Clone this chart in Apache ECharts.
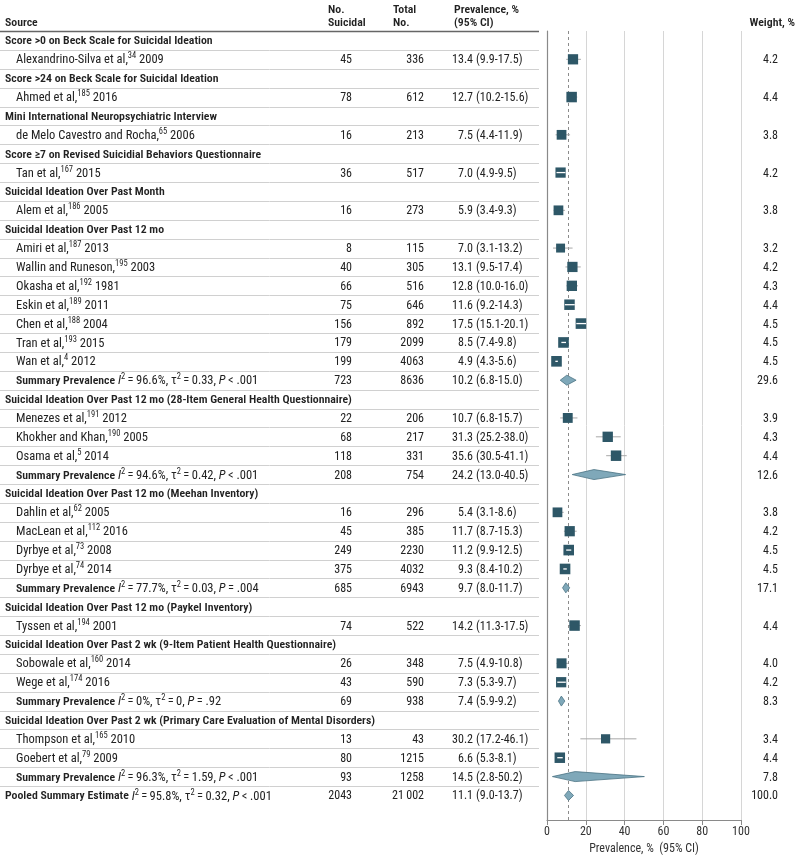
<!DOCTYPE html>
<html><head><meta charset="utf-8">
<script src="https://cdn.jsdelivr.net/npm/echarts@6/dist/echarts.min.js"></script>
<style>html,body{margin:0;padding:0;background:#fff}#c{width:800px;height:858px}</style>
</head><body><div id="c"></div>
<script>
// ---------------- DATA ----------------
const rowKinds = ['g','s','g','s','g','s','g','s','g','s','g','s','s','s','s','s','s','s','m','g','s','s','s','m','g','s','s','s','s','m','g','s','g','s','s','m','g','s','s','m','p'];
const rowLabels = [
 'Score >0 on Beck Scale for Suicidal Ideation',
 'Alexandrino-Silva et al,',
 'Score >24 on Beck Scale for Suicidal Ideation',
 'Ahmed et al,',
 'Mini International Neuropsychiatric Interview',
 'de Melo Cavestro and Rocha,',
 'Score \u22657 on Revised Suicidial Behaviors Questionnaire',
 'Tan et al,',
 'Suicidal Ideation Over Past Month',
 'Alem et al,',
 'Suicidal Ideation Over Past 12 mo',
 'Amiri et al,',
 'Wallin and Runeson,',
 'Okasha et al,',
 'Eskin et al,',
 'Chen et al,',
 'Tran et al,',
 'Wan et al,',
 'Summary Prevalence',
 'Suicidal Ideation Over Past 12 mo (28-Item General Health Questionnaire)',
 'Menezes et al,',
 'Khokher and Khan,',
 'Osama et al,',
 'Summary Prevalence',
 'Suicidal Ideation Over Past 12 mo (Meehan Inventory)',
 'Dahlin et al,',
 'MacLean et al,',
 'Dyrbye et al,',
 'Dyrbye et al,',
 'Summary Prevalence',
 'Suicidal Ideation Over Past 12 mo (Paykel Inventory)',
 'Tyssen et al,',
 'Suicidal Ideation Over Past 2 wk (9-Item Patient Health Questionnaire)',
 'Sobowale et al,',
 'Wege et al,',
 'Summary Prevalence',
 'Suicidal Ideation Over Past 2 wk (Primary Care Evaluation of Mental Disorders)',
 'Thompson et al,',
 'Goebert et al,',
 'Summary Prevalence',
 'Pooled Summary Estimate'
];
const refNumbers = [null,'34',null,'185',null,'65',null,'167',null,'186',null,'187','195','192','189','188','193','4',null,null,'191','190','5',null,null,'62','112','73','74',null,null,'194',null,'160','174',null,null,'165','79',null,null];
const years = [null,'2009',null,'2016',null,'2006',null,'2015',null,'2005',null,'2013','2003','1981','2011','2004','2015','2012',null,null,'2012','2005','2014',null,null,'2005','2016','2008','2014',null,null,'2001',null,'2014','2016',null,null,'2010','2009',null,null];
const nSuicidal = [null,45,null,78,null,16,null,36,null,16,null,8,40,66,75,156,179,199,723,null,22,68,118,208,null,16,45,249,375,685,null,74,null,26,43,69,null,13,80,93,2043];
const totalN = [null,336,null,612,null,213,null,517,null,273,null,115,305,516,646,892,2099,4063,8636,null,206,217,331,754,null,296,385,2230,4032,6943,null,522,null,348,590,938,null,43,1215,1258,21002];
const est = [null,13.4,null,12.7,null,7.5,null,7.0,null,5.9,null,7.0,13.1,12.8,11.6,17.5,8.5,4.9,10.2,null,10.7,31.3,35.6,24.2,null,5.4,11.7,11.2,9.3,9.7,null,14.2,null,7.5,7.3,7.4,null,30.2,6.6,14.5,11.1];
const ciLow = [null,9.9,null,10.2,null,4.4,null,4.9,null,3.4,null,3.1,9.5,10.0,9.2,15.1,7.4,4.3,6.8,null,6.8,25.2,30.5,13.0,null,3.1,8.7,9.9,8.4,8.0,null,11.3,null,4.9,5.3,5.9,null,17.2,5.3,2.8,9.0];
const ciHigh = [null,17.5,null,15.6,null,11.9,null,9.5,null,9.3,null,13.2,17.4,16.0,14.3,20.1,9.8,5.6,15.0,null,15.7,38.0,41.1,40.5,null,8.6,15.3,12.5,10.2,11.7,null,17.5,null,10.8,9.7,9.2,null,46.1,8.1,50.2,13.7];
const weights = [null,4.2,null,4.4,null,3.8,null,4.2,null,3.8,null,3.2,4.2,4.3,4.4,4.5,4.5,4.5,29.6,null,3.9,4.3,4.4,12.6,null,3.8,4.2,4.5,4.5,17.1,null,4.4,null,4.0,4.2,8.3,null,3.4,4.4,7.8,100.0];
const summaryRows = [18,23,29,35,39,40];
const i2Values = ['96.6%','94.6%','77.7%','0%','96.3%','95.8%'];
const tau2Values = ['0.33','0.42','0.03','0','1.59','0.32'];
const pValues = ['< .001','< .001','= .004','= .92','< .001','< .001'];
const xTicks = [0,20,40,60,80,100];
const pooledRow = 40;

// ---------------- LAYOUT / STYLE ----------------
const FONT = "'Roboto Condensed','Liberation Sans Narrow',sans-serif";
const FS = 12;
const FS_SRC = 12.5;
const FS_B = 11.8;
const TXT = '#222';
const TEXT_DY = 1;
const COL = {group:5, study:16, nSui:352, total:424, est:473, ci:476, weight:778, lineEnd:539};
const Y_MIN = -0.5, Y_MAX = 41.3;
const BOX = '#2e5767', DIA_FILL = '#7fa8b9', DIA_STROKE = '#4b7384';

const rich = {
  n: {fontSize: FS_SRC, fontFamily: FONT, fill: TXT},
  g: {fontSize: FS_B, fontFamily: FONT, fill: TXT, fontWeight: 600},
  b: {fontSize: FS_B, fontFamily: FONT, fill: TXT, fontWeight: 600},
  it: {fontSize: FS_SRC, fontFamily: FONT, fill: TXT, fontStyle: 'italic'},
  sup: {fontSize: 8.5, fontFamily: FONT, fill: TXT, padding: [0, 0, 8, 0]}
};

function fmtN(v) {
  if (v == null) return '';
  if (v >= 10000) { const s = String(v); return s.slice(0, s.length - 3) + '\u2009' + s.slice(-3); }
  return String(v);
}
function textEl(x, y, text, align, extra) {
  return {type: 'text', style: Object.assign({x: x, y: y + TEXT_DY, text: text, align: align, verticalAlign: 'middle',
    fontSize: FS, fontFamily: FONT, fill: TXT, rich: rich}, extra || {})};
}
function sourceText(i) {
  const k = rowKinds[i];
  if (k === 'g') return '{g|' + rowLabels[i] + '}';
  if (k === 's') return '{n|' + rowLabels[i] + '}{sup|' + refNumbers[i] + '}{n| ' + years[i] + '}';
  const j = summaryRows.indexOf(i);
  return '{b|' + rowLabels[i] + '}{n| }{it|I}{sup|2}{n|\u2009=\u2009' + i2Values[j] + ', \u03c4}{sup|2}{n|\u2009=\u2009' +
    tau2Values[j] + ', }{it|P}{n|\u2009' + pValues[j] + '}';
}

function renderTableRow(params, api) {
  const i = api.value(1);
  const y = api.coord([0, i])[1];
  const h = api.size([0, 1])[1];
  const k = rowKinds[i];
  const ch = [];
  const yTop = Math.round(y - h / 2) + 0.5;
  ch.push({type: 'line', shape: {x1: 0, y1: yTop, x2: COL.lineEnd, y2: yTop},
    style: i === 0 ? {stroke: '#666', lineWidth: 1.5} : {stroke: '#d0d0d0', lineWidth: 1}});
  const x0 = (k === 'g' || k === 'p') ? COL.group : COL.study;
  ch.push(textEl(x0, y, sourceText(i), 'left'));
  if (k !== 'g') {
    ch.push(textEl(COL.nSui, y, fmtN(nSuicidal[i]), 'right'));
    ch.push(textEl(COL.total, y, fmtN(totalN[i]), 'right'));
    ch.push(textEl(COL.est, y, est[i].toFixed(1), 'right'));
    ch.push(textEl(COL.ci, y, '(' + ciLow[i].toFixed(1) + '-' + ciHigh[i].toFixed(1) + ')', 'left'));
    ch.push(textEl(COL.weight, y, weights[i].toFixed(1), 'right'));
  }
  return {type: 'group', children: ch};
}

function renderMark(params, api) {
  const i = api.value(1);
  const k = rowKinds[i];
  const pc = api.coord([est[i], i]);
  const pl = api.coord([ciLow[i], i]);
  const ph = api.coord([ciHigh[i], i]);
  const y = pc[1];
  if (k === 's') {
    const side = 5 * Math.sqrt(weights[i]);
    const inside = pl[0] >= pc[0] - side / 2 && ph[0] <= pc[0] + side / 2;
    const ch = [];
    if (!inside) ch.push({type: 'line', shape: {x1: pl[0], y1: y, x2: ph[0], y2: y}, style: {stroke: '#a8a8a8', lineWidth: 1}});
    ch.push({type: 'rect', shape: {x: pc[0] - side / 2, y: y - side / 2, width: side, height: side}, style: {fill: BOX}});
    if (inside) ch.push({type: 'line', shape: {x1: pl[0], y1: y, x2: ph[0], y2: y}, style: {stroke: '#ffffff', lineWidth: 1.3}});
    return {type: 'group', children: ch};
  }
  const hh = 5;
  return {type: 'polygon', shape: {points: [[pl[0], y], [pc[0], y - hh], [ph[0], y], [pc[0], y + hh]]},
    style: {fill: DIA_FILL, stroke: DIA_STROKE, lineWidth: 0.8}};
}

const rowIdx = rowKinds.map((k, i) => i);
const markRows = rowIdx.filter(i => rowKinds[i] !== 'g');

const chart = echarts.init(document.getElementById('c'), null, {renderer: 'canvas'});
const hdr = (x, y, t, align) => ({type: 'text', x: x, y: y,
  style: {text: t, x: 0, y: 0, align: align, verticalAlign: 'middle', fontSize: FS_B, fontFamily: FONT, fontWeight: 600, fill: TXT}});

chart.setOption({
  animation: false,
  backgroundColor: '#fff',
  grid: [
    {left: 0, right: 0, top: 31, bottom: 38, outerBoundsMode: 'none', containLabel: false},
    {left: 547, width: 194, top: 31, bottom: 38, outerBoundsMode: 'none', containLabel: false}
  ],
  xAxis: [
    {type: 'value', gridIndex: 0, min: 0, max: 800, show: false},
    {type: 'value', gridIndex: 1, min: xTicks[0], max: xTicks[xTicks.length - 1], interval: xTicks[1] - xTicks[0],
      axisLine: {show: true, onZero: false, lineStyle: {color: '#8a8a8a', width: 1.2}},
      axisTick: {show: true, length: 5, lineStyle: {color: '#8a8a8a'}},
      axisLabel: {color: '#333', fontSize: FS, fontFamily: FONT, margin: 6},
      splitLine: {show: true, lineStyle: {color: '#d6d6d6', width: 1}},
      name: 'Prevalence, %  (95% CI)', nameLocation: 'middle', nameGap: 21,
      nameTextStyle: {color: '#333', fontSize: FS, fontFamily: FONT}}
  ],
  yAxis: [
    {type: 'value', gridIndex: 0, inverse: true, min: Y_MIN, max: Y_MAX, show: false},
    {type: 'value', gridIndex: 1, inverse: true, min: Y_MIN, max: Y_MAX,
      axisLine: {show: true, onZero: false, lineStyle: {color: '#8a8a8a', width: 1.2}},
      axisTick: {show: false}, axisLabel: {show: false}, splitLine: {show: false}}
  ],
  graphic: [
    hdr(5, 23, 'Source', 'left'),
    hdr(328, 10, 'No.', 'left'), hdr(328, 23, 'Suicidal', 'left'),
    hdr(393, 10, 'Total', 'left'), hdr(393, 23, 'No.', 'left'),
    hdr(454, 10, 'Prevalence, %', 'left'), hdr(454, 23, '(95% CI)', 'left'),
    hdr(795, 23, 'Weight, %', 'right')
  ],
  series: [
    {type: 'custom', xAxisIndex: 0, yAxisIndex: 0, renderItem: renderTableRow,
      data: rowIdx.map(i => [0, i]), encode: {x: 0, y: 1}, silent: true, clip: false},
    {type: 'custom', xAxisIndex: 1, yAxisIndex: 1, renderItem: renderMark, z: 3,
      data: markRows.map(i => [est[i], i]), encode: {x: 0, y: 1}, silent: true, clip: false,
      markLine: {silent: true, symbol: ['none', 'none'], label: {show: false}, z: 2,
        lineStyle: {type: [3, 3], color: '#8c8c8c', width: 1},
        data: [{xAxis: est[pooledRow]}]}}
  ]
});
</script></body></html>
